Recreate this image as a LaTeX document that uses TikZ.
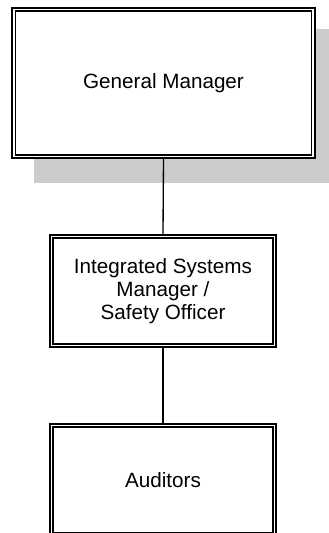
\documentclass[tikz,border=0pt]{standalone}
\usepackage{fontspec}
\setmainfont{Liberation Sans}
\usetikzlibrary{calc}
\definecolor{shadowgray}{HTML}{CCCCCC}

\begin{document}
\begin{tikzpicture}[
    rolebox/.style={draw=black, line width=1.5pt, fill=white, align=center, inner sep=2pt,
        font=\fontsize{15.5}{17.5}\selectfont},
    innerline/.style={line width=0.8pt},
    link/.style={line width=1pt},
    x=0.75pt, y=-0.75pt]

    \useasboundingbox (0,0) rectangle (329,533);
    \clip (0,0) rectangle (329,533);

    % ================= shadow behind the top box =================
    \fill[shadowgray] (34,29) rectangle (335,183);

    % ================= the three boxes =================
    \node[rolebox, minimum width=227pt, minimum height=112.5pt] (gm) at (163.5,83) {General Manager};
    \node[rolebox, minimum width=169.5pt, minimum height=84pt] (ism) at (163,291)
        {Integrated Systems\\Manager /\\Safety Officer};
    \node[rolebox, minimum width=169.5pt, minimum height=84pt] (aud) at (163,480) {Auditors};

    % inner rule of each double border -
    \foreach \b in {gm, ism, aud} {
        \draw[innerline] ($(\b.south west)+(3pt,3pt)$) rectangle ($(\b.north east)+(-3pt,-3pt)$);
    }

    % ================= reporting lines =================
    \draw[link] (gm.south) -- (ism.north);
    \draw[link] (ism.south) -- (aud.north);
\end{tikzpicture}
\end{document}
